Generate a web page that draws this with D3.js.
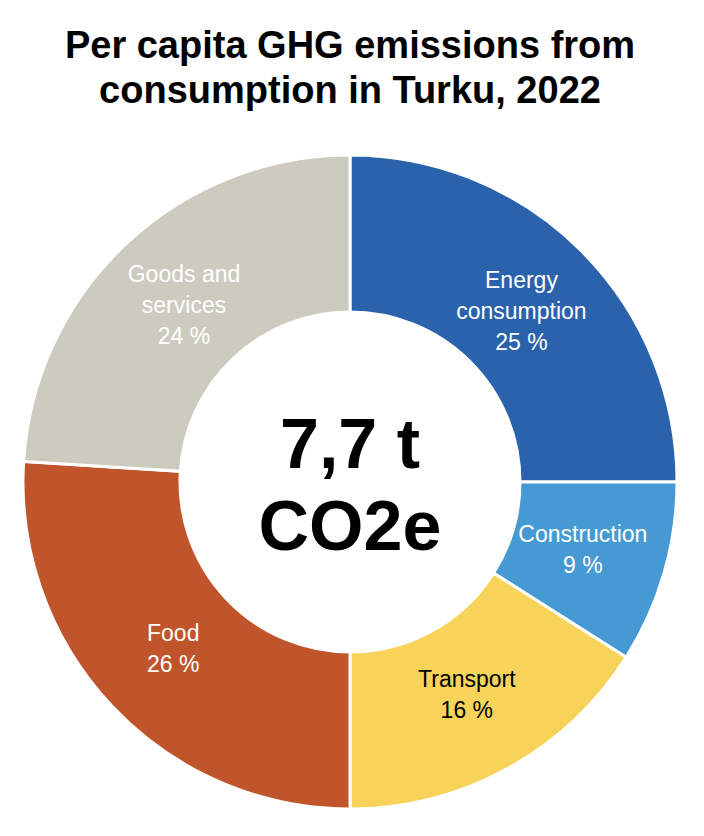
<!DOCTYPE html>
<html><head><meta charset="utf-8">
<script src="https://cdn.jsdelivr.net/npm/d3@7"></script>
<style>body{margin:0;background:#fff}</style></head>
<body><svg id="c" width="704" height="836"></svg>
<script>
const categories = ["Energy consumption","Construction","Transport","Food","Goods and services"];
const labelLines = [["Energy","consumption"],["Construction"],["Transport"],["Food"],["Goods and","services"]];
const values = [25,9,16,26,24];
const colors = ["#2A62AB","#469AD3","#F7D35A","#C0552B","#CDCBBF"];
const textColors = ["#fff","#fff","#000","#fff","#fff"];

const svg = d3.select("#c");
const font = "'Liberation Sans', Arial, sans-serif";
svg.append("text").attr("x",350).attr("y",58).attr("text-anchor","middle")
  .attr("font-family",font).attr("font-weight","bold").attr("font-size",38).text("Per capita GHG emissions from");
svg.append("text").attr("x",350).attr("y",103).attr("text-anchor","middle")
  .attr("font-family",font).attr("font-weight","bold").attr("font-size",38).text("consumption in Turku, 2022");

const cx=350, cy=482, R=327, r=170;
const g = svg.append("g").attr("transform",`translate(${cx},${cy})`);
const pie = d3.pie().sort(null).value(d=>d)(values);
const arc = d3.arc().innerRadius(r).outerRadius(R);
const labArc = d3.arc().innerRadius(235).outerRadius(250);
g.selectAll("path").data(pie).join("path").attr("d",arc)
  .attr("fill",(d,i)=>colors[i]).attr("stroke","#fff").attr("stroke-width",3);
pie.forEach((d,i)=>{
  let [x,y]=labArc.centroid(d);
  const lines=[...labelLines[i], values[i]+" %"];
  const lh=31;
  const t=g.append("text").attr("text-anchor","middle").attr("font-family",font)
    .attr("font-size",23).attr("fill",textColors[i]);
  lines.forEach((l,k)=>t.append("tspan").attr("x",x).attr("y",y+(k-(lines.length-1)/2)*lh+8).text(l));
});
g.append("text").attr("x",0).attr("y",-14).attr("text-anchor","middle").attr("font-family",font)
  .attr("font-weight","bold").attr("font-size",70).text("7,7 t");
g.append("text").attr("x",0).attr("y",68).attr("text-anchor","middle").attr("font-family",font)
  .attr("font-weight","bold").attr("font-size",70).text("CO2e");
</script></body></html>
